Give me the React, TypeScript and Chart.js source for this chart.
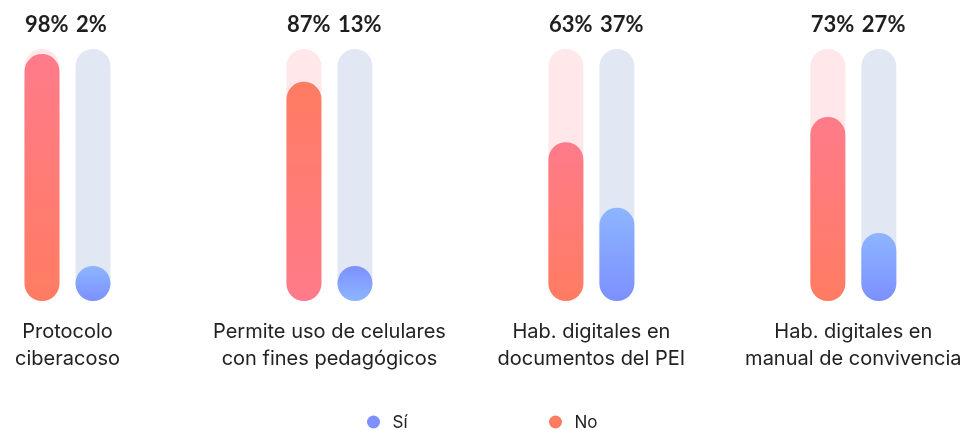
import React, { useEffect, useRef } from "react";
import { Chart, registerables } from "chart.js";

Chart.register(...registerables);

// ---- data ----
const categories: string[][] = [
  ["Protocolo", "ciberacoso"],
  ["Permite uso de celulares", "con fines pedagógicos"],
  ["Hab. digitales en", "documentos del PEI"],
  ["Hab. digitales en", "manual de convivencia"],
];
const siValues = [2, 13, 37, 27];
const noValues = [98, 87, 63, 73];
const trackValues = [100, 100, 100, 100];
const seriesNames = ["Sí", "No"];

// ---- styles ----
const noColors = ["#FF7B8A", "#FF7C62"];
const siColors = ["#8DB5FF", "#7C90FF"];
const noTrack = "#FFE7EA";
const siTrack = "#E1E8F4";
const flipGradient = [false, true, false, false];
const MIN_BAR = 35;

function gradientFor(values: number[], colors: string[]) {
  return (c: any) => {
    const chart = c.chart;
    const area = chart.chartArea;
    const y = chart.scales?.y;
    if (!area || !y) return colors[0];
    const i = c.dataIndex ?? 0;
    const bottom = y.getPixelForValue(0);
    let top = y.getPixelForValue(values[i]);
    top = Math.min(top, bottom - MIN_BAR);
    const g = chart.ctx.createLinearGradient(0, top, 0, bottom);
    const a = flipGradient[i] ? colors[1] : colors[0];
    const b = flipGradient[i] ? colors[0] : colors[1];
    g.addColorStop(0, a);
    g.addColorStop(1, b);
    return g;
  };
}

const labelsPlugin = {
  id: "valueLabelsAndLegend",
  afterDatasetsDraw(chart: any) {
    const ctx = chart.ctx;
    ctx.save();
    ctx.font = "bold 22px Lato";
    ctx.fillStyle = "#1E1E1E";
    ctx.textAlign = "left";
    ctx.textBaseline = "alphabetic";
    [0, 1].forEach((di) => {
      const meta = chart.getDatasetMeta(di);
      const ds = chart.data.datasets[di];
      meta.data.forEach((bar: any, i: number) => {
        const { x, width } = bar.getProps(["x", "width"], true);
        const v = ds.data[i].y;
        ctx.fillText(v + "%", x - width / 2 + 0.5, chart.chartArea.top - 17);
      });
    });
    // legend
    const cx = chart.width / 2;
    const ly = chart.height - 8;
    const items = [
      { text: seriesNames[0], color: siColors[1], x: cx - 115 },
      { text: seriesNames[1], color: noColors[1], x: cx + 67 },
    ];
    ctx.font = "17px Inter";
    ctx.textBaseline = "middle";
    items.forEach((it) => {
      ctx.fillStyle = it.color;
      ctx.beginPath();
      ctx.arc(it.x, ly, 6.5, 0, Math.PI * 2);
      ctx.fill();
      ctx.fillStyle = "#222222";
      ctx.fillText(it.text, it.x + 19, ly + 1);
    });
    ctx.restore();
  },
};

export default function App() {
  const ref = useRef<HTMLCanvasElement | null>(null);
  useEffect(() => {
    if (!ref.current) return;
    const toXY = (arr: number[]) => arr.map((v, i) => ({ x: i, y: v }));
    const common = {
      borderRadius: 18,
      borderSkipped: false,
      categoryPercentage: 0.3894,
      barPercentage: 0.686,
    };
    const chart = new Chart(ref.current, {
      type: "bar",
      data: {
        datasets: [
          {
            label: seriesNames[1],
            data: toXY(noValues),
            stack: "no",
            order: 0,
            minBarLength: MIN_BAR,
            backgroundColor: gradientFor(noValues, noColors),
            ...common,
          },
          {
            label: seriesNames[0],
            data: toXY(siValues),
            stack: "si",
            order: 0,
            minBarLength: MIN_BAR,
            backgroundColor: gradientFor(siValues, siColors),
            ...common,
          },
          {
            label: "track-no",
            data: toXY(trackValues),
            stack: "no",
            order: 1,
            backgroundColor: noTrack,
            ...common,
          },
          {
            label: "track-si",
            data: toXY(trackValues),
            stack: "si",
            order: 1,
            backgroundColor: siTrack,
            ...common,
          },
        ] as any,
      },
      options: {
        animation: false,
        responsive: true,
        maintainAspectRatio: false,
        layout: { padding: { top: 41, bottom: 49, left: 0, right: 0 } },
        plugins: {
          legend: { display: false },
          tooltip: { enabled: false },
        },
        scales: {
          x: {
            type: "linear",
            offset: false,
            min: -0.2271,
            max: 3.4415,
            grid: { display: false, drawTicks: false },
            border: { display: false },
            afterBuildTicks: (scale: any) => {
              scale.ticks = categories.map((_, i) => ({ value: i }));
            },
            afterFit: (scale: any) => {
              scale.paddingLeft = 0;
              scale.paddingRight = 0;
              scale.height = 80;
            },
            ticks: {
              autoSkip: false,
              maxRotation: 0,
              minRotation: 0,
              padding: 18,
              color: "#222222",
              font: { family: "Inter", size: 20, lineHeight: 1.33 },
              callback: (v: any) => categories[v] ?? "",
            },
          },
          y: {
            display: false,
            stacked: false,
            min: 0,
            max: 100,
          },
        },
      } as any,
      plugins: [labelsPlugin],
    });
    return () => chart.destroy();
  }, []);
  return (
    <div style={{ position: "absolute", left: 8, top: 8, width: 961, height: 422 }}>
      <canvas ref={ref} />
    </div>
  );
}
